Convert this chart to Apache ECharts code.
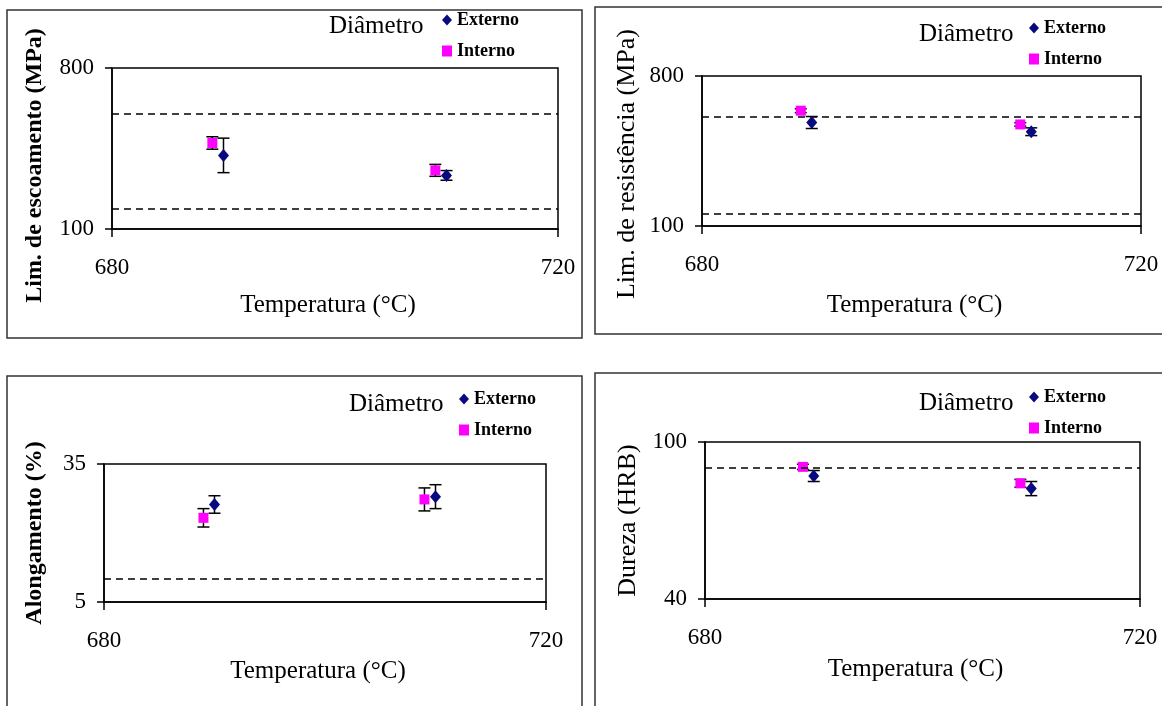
<!DOCTYPE html>
<html lang="pt">
<head>
<meta charset="UTF-8">
<title>Propriedades x Temperatura</title>
<script src="https://cdn.jsdelivr.net/npm/echarts@6/dist/echarts.min.js"></script>
<style>
  html,body{margin:0;padding:0;background:#fff;}
  #chart{width:1162px;height:706px;}
</style>
</head>
<body>
<div id="chart"></div>
<script>
// temperaturas (Interno aparece deslocado 1 grau para a esquerda no original)
var tempExt = [690, 710];
var tempInt = [689, 709];

// Lim. de escoamento (MPa)
var escExt = [420, 333], escExtErr = [75, 21];
var escInt = [474, 355], escIntErr = [27, 26];
var escLimits = [600, 190];

// Lim. de resistencia (MPa)
var resExt = [583, 540], resExtErr = [28, 18];
var resInt = [638, 574], resIntErr = [9, 8];
var resLimits = [610, 155];

// Alongamento (%)
var aloExt = [26.2, 27.9], aloExtErr = [1.9, 2.6];
var aloInt = [23.3, 27.3], aloIntErr = [2.0, 2.5];
var aloLimits = [10];

// Dureza (HRB)
var durExt = [87.0, 82.2], durExtErr = [2.1, 2.7];
var durInt = [90.5, 84.2], durIntErr = [1.0, 1.5];
var durLimits = [90];

var yNames = ['Lim. de escoamento (MPa)', 'Lim. de resistência (MPa)', 'Alongamento (%)', 'Dureza (HRB)'];
var yMin = [100, 100, 5, 40];
var yMax = [800, 800, 35, 100];
var xTicks = [680, 720];

var FONT = '"Liberation Serif", "DejaVu Serif", serif';

// layout de cada painel
var panels = [
  {grid:{left:112, top:68, width:446, height:161}, box:[7,10,575,328], bold:true, nameSize:24, nameGap:65, shift:34, leg:[442,11], tit:[329,14], xGap:64},
  {grid:{left:702, top:76, width:439, height:150}, box:[595,7,580,327], bold:false, nameSize:26, nameGap:62, shift:26, leg:[1029,19], tit:[919,22], xGap:67},
  {grid:{left:104, top:464, width:442, height:138}, box:[7,376,575,340], bold:true, nameSize:24, nameGap:57, shift:0, leg:[459,390], tit:[349,392], xGap:57},
  {grid:{left:705, top:442, width:435, height:157}, box:[595,373,580,340], bold:false, nameSize:26, nameGap:64, shift:0, leg:[1029,388], tit:[919,391], xGap:58}
];

var sets = [
  {ext:escExt, extErr:escExtErr, int:escInt, intErr:escIntErr, lim:escLimits},
  {ext:resExt, extErr:resExtErr, int:resInt, intErr:resIntErr, lim:resLimits},
  {ext:aloExt, extErr:aloExtErr, int:aloInt, intErr:aloIntErr, lim:aloLimits},
  {ext:durExt, extErr:durExtErr, int:durInt, intErr:durIntErr, lim:durLimits}
];

function errRender(params, api){
  var x = api.value(0);
  var top = api.coord([x, api.value(2)]);
  var bot = api.coord([x, api.value(1)]);
  var w = 6;
  var st = {stroke:'#000', lineWidth:1.5};
  return {type:'group', children:[
    {type:'line', shape:{x1:top[0], y1:top[1], x2:bot[0], y2:bot[1]}, style:st},
    {type:'line', shape:{x1:top[0]-w, y1:top[1], x2:top[0]+w, y2:top[1]}, style:st},
    {type:'line', shape:{x1:bot[0]-w, y1:bot[1], x2:bot[0]+w, y2:bot[1]}, style:st}
  ]};
}

function errData(xs, ys, es){
  var out = [];
  for (var i = 0; i < xs.length; i++) out.push([xs[i], ys[i]-es[i], ys[i]+es[i]]);
  return out;
}
function pts(xs, ys){
  var out = [];
  for (var i = 0; i < xs.length; i++) out.push([xs[i], ys[i]]);
  return out;
}

var grids = [], xAxes = [], yAxes = [], series = [], legends = [], titles = [], graphics = [];

panels.forEach(function(p, i){
  var d = sets[i];
  grids.push(Object.assign({show:true, borderColor:'#000', borderWidth:1.5, backgroundColor:'#fff'}, p.grid));
  xAxes.push({
    type:'value', gridIndex:i, min:xTicks[0], max:xTicks[1], interval:40,
    name:'Temperatura (°C)', nameLocation:'middle', nameGap:p.xGap,
    nameTextStyle:{fontFamily:FONT, fontSize:25, color:'#000', padding:[0, 14, 0, 0]},
    axisLine:{lineStyle:{color:'#000', width:1.5}},
    axisTick:{show:true, length:8, lineStyle:{color:'#000', width:1.5}},
    axisLabel:{fontFamily:FONT, fontSize:23, color:'#000', margin:27},
    splitLine:{show:false}
  });
  yAxes.push({
    type:'value', gridIndex:i, min:yMin[i], max:yMax[i], interval:yMax[i]-yMin[i],
    name:yNames[i], nameLocation:'middle', nameGap:p.nameGap,
    nameTextStyle:{fontFamily:FONT, fontSize:p.nameSize, color:'#000', fontWeight:p.bold?'bold':'normal', padding:[0, p.shift, 0, 0]},
    axisLine:{show:true, lineStyle:{color:'#000', width:1.5}},
    axisTick:{show:true, length:7, lineStyle:{color:'#000', width:1.5}},
    axisLabel:{fontFamily:FONT, fontSize:23, color:'#000', margin:18},
    splitLine:{show:false}
  });
  series.push({
    type:'custom', name:'errInt'+i, xAxisIndex:i, yAxisIndex:i, renderItem:errRender,
    encode:{x:0, y:[1,2]}, data:errData(tempInt, d.int, d.intErr), z:3, silent:true,
    markLine:{
      silent:true, symbol:['none','none'], label:{show:false},
      lineStyle:{color:'#000', type:[7,5], width:1.5},
      data:d.lim.map(function(v){ return {yAxis:v}; })
    }
  });
  series.push({
    type:'custom', name:'errExt'+i, xAxisIndex:i, yAxisIndex:i, renderItem:errRender,
    encode:{x:0, y:[1,2]}, data:errData(tempExt, d.ext, d.extErr), z:3, silent:true
  });
  series.push({
    type:'scatter', name:'Externo', xAxisIndex:i, yAxisIndex:i, symbol:'diamond', symbolSize:[11,13],
    itemStyle:{color:'#0a0a80', opacity:1}, data:pts(tempExt, d.ext), z:5
  });
  series.push({
    type:'scatter', name:'Interno', xAxisIndex:i, yAxisIndex:i, symbol:'rect', symbolSize:10,
    itemStyle:{color:'#ff00ff', opacity:1}, data:pts(tempInt, d.int), z:4
  });
  legends.push({
    data:['Externo','Interno'], orient:'vertical', left:p.leg[0], top:p.leg[1],
    itemWidth:10, itemHeight:11, itemGap:13, padding:0, selectedMode:false,
    textStyle:{fontFamily:FONT, fontSize:18, fontWeight:'bold', color:'#000'}
  });
  titles.push({
    text:'Diâmetro', left:p.tit[0], top:p.tit[1], padding:0,
    textStyle:{fontFamily:FONT, fontSize:25, fontWeight:'normal', color:'#000'}
  });
  graphics.push({
    type:'rect', shape:{x:p.box[0], y:p.box[1], width:p.box[2], height:p.box[3]},
    style:{fill:null, stroke:'#333', lineWidth:1.5}, z:-1, silent:true
  });
});

var chart = echarts.init(document.getElementById('chart'));
chart.setOption({
  animation:false,
  backgroundColor:'#fff',
  title:titles,
  legend:legends,
  grid:grids,
  xAxis:xAxes,
  yAxis:yAxes,
  graphic:graphics,
  series:series
});
</script>
</body>
</html>
